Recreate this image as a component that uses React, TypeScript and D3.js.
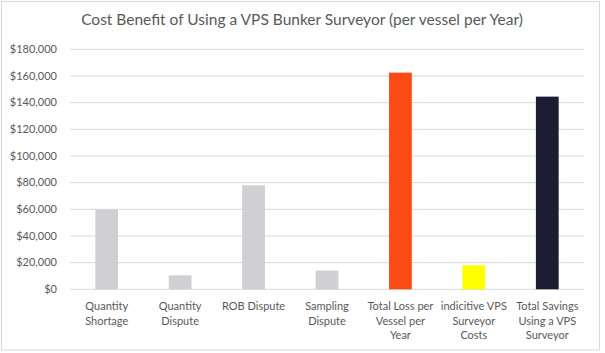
import { useRef, useEffect } from "react";
import * as d3 from "d3";

const categories = [
  "Quantity Shortage",
  "Quantity Dispute",
  "ROB Dispute",
  "Sampling Dispute",
  "Total Loss per Vessel per Year",
  "indicitive VPS Surveyor Costs",
  "Total Savings Using a VPS Surveyor",
];

// wrapped the way the original axis wraps them
const categoryLines = [
  ["Quantity", "Shortage"],
  ["Quantity", "Dispute"],
  ["ROB Dispute"],
  ["Sampling", "Dispute"],
  ["Total Loss per", "Vessel per", "Year"],
  ["indicitive VPS", "Surveyor", "Costs"],
  ["Total Savings", "Using a VPS", "Surveyor"],
];

const values = [60000, 10500, 78000, 14000, 162500, 18000, 144500];
const barColors = ["#d0cfd4", "#d0cfd4", "#d0cfd4", "#d0cfd4", "#fc4a14", "#ffff00", "#1c1c33"];
const yTicks = [0, 20000, 40000, 60000, 80000, 100000, 120000, 140000, 160000, 180000];

const TITLE = "Cost Benefit of Using a VPS Bunker Surveyor (per vessel per Year)";

export default function App() {
  const svgRef = useRef<SVGSVGElement>(null);

  useEffect(() => {
    if (!svgRef.current) return;
    const width = 605;
    const height = 353;
    const margin = { top: 49.3, right: 21, bottom: 63.7, left: 70 };
    const innerWidth = width - margin.left - margin.right;
    const innerHeight = height - margin.top - margin.bottom;
    const textColor = "#595959";
    const font = "Lato, 'Open Sans', sans-serif";

    const svg = d3.select(svgRef.current);
    svg.selectAll("*").remove();
    svg.attr("width", width).attr("height", height);

    svg.append("rect")
      .attr("x", 1.5)
      .attr("y", 1.5)
      .attr("width", 598)
      .attr("height", 348.5)
      .attr("fill", "#fff")
      .attr("stroke", "#d9d9d9");

    svg.append("text")
      .attr("x", 302)
      .attr("y", 25)
      .attr("text-anchor", "middle")
      .attr("fill", textColor)
      .attr("font-family", font)
      .attr("font-size", "15.5px")
      .text(TITLE);

    const g = svg.append("g").attr("transform", `translate(${margin.left}, ${margin.top})`);

    const x = d3.scaleBand().domain(categories).range([0, innerWidth]).paddingInner(0.69).paddingOuter(0.345);
    const y = d3.scaleLinear().domain([0, 180000]).range([innerHeight, 0]);

    // gridlines
    g.selectAll(".grid")
      .data(yTicks)
      .enter()
      .append("line")
      .attr("x1", 0)
      .attr("x2", innerWidth)
      .attr("y1", (d) => y(d))
      .attr("y2", (d) => y(d))
      .attr("stroke", "#d9d9d9")
      .attr("stroke-width", 1);

    // y tick labels
    const fmt = d3.format("$,");
    g.selectAll(".ytick")
      .data(yTicks)
      .enter()
      .append("text")
      .attr("x", -13)
      .attr("y", (d) => y(d))
      .attr("dy", "0.35em")
      .attr("text-anchor", "end")
      .attr("fill", textColor)
      .attr("font-family", font)
      .attr("font-size", "11px")
      .text((d) => fmt(d));

    // bars
    g.selectAll(".bar")
      .data(values)
      .enter()
      .append("rect")
      .attr("x", (_, i) => x(categories[i]) || 0)
      .attr("width", x.bandwidth())
      .attr("y", (d) => y(d))
      .attr("height", (d) => innerHeight - y(d))
      .attr("fill", (_, i) => barColors[i]);

    // category labels
    const labels = g.selectAll(".label")
      .data(categoryLines)
      .enter()
      .append("text")
      .attr("text-anchor", "middle")
      .attr("fill", textColor)
      .attr("font-family", font)
      .attr("font-size", "11px");
    labels.each(function (lines, i) {
      const cx = (x(categories[i]) || 0) + x.bandwidth() / 2;
      d3.select(this)
        .selectAll("tspan")
        .data(lines)
        .enter()
        .append("tspan")
        .attr("x", cx)
        .attr("y", (_, j) => innerHeight + 21 + j * 14.3)
        .text((t) => t);
    });
  }, []);

  return (
    <div style={{ position: "absolute", left: 0, top: 0 }}>
      <svg ref={svgRef} style={{ display: "block" }} />
    </div>
  );
}
